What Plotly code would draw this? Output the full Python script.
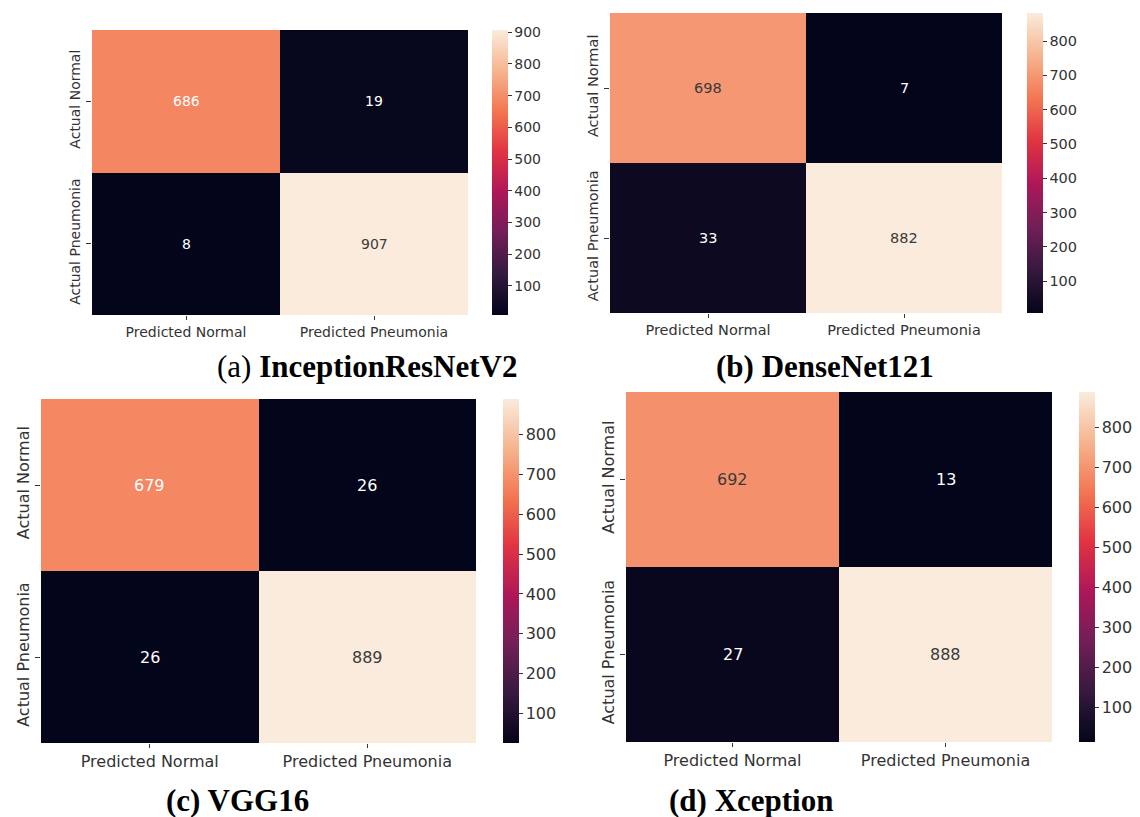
import plotly.graph_objects as go

W, H = 1140, 817

pred_labels = ["Predicted Normal", "Predicted Pneumonia"]
actual_labels = ["Actual Normal", "Actual Pneumonia"]

models = ["InceptionResNetV2", "DenseNet121", "VGG16", "Xception"]
letters = ["a", "b", "c", "d"]

cm_inception = [[686, 19], [8, 907]]
cm_densenet = [[698, 7], [33, 882]]
cm_vgg16 = [[679, 26], [26, 889]]
cm_xception = [[692, 13], [27, 888]]
matrices = [cm_inception, cm_densenet, cm_vgg16, cm_xception]

cbar_ticks_a = [100, 200, 300, 400, 500, 600, 700, 800, 900]
cbar_ticks_bcd = [100, 200, 300, 400, 500, 600, 700, 800]
cbar_ticks = [cbar_ticks_a, cbar_ticks_bcd, cbar_ticks_bcd, cbar_ticks_bcd]

rocket = [
    [0.0, "#03051a"], [1 / 7, "#35193e"], [2 / 7, "#701f57"], [3 / 7, "#ad1759"],
    [4 / 7, "#e13342"], [5 / 7, "#f37651"], [6 / 7, "#f6b48f"], [1.0, "#faebdd"],
]

# layout geometry in pixels: heatmap box (x0, x1, y0, y1), colorbar left x, fonts
boxes = [(92, 468, 30, 315), (610, 1002, 13, 313), (41, 476, 399, 743), (626, 1052, 392, 742)]
cbar_x = [492, 1027, 503, 1079]
tick_fs = [14, 14.5, 16, 16]
captions_pos = [(367, 366), (825, 366), (237, 800), (751, 800)]
text_dark_threshold = 0.77

fig = go.Figure()
annotations = []
for i, (cm, box) in enumerate(zip(matrices, boxes)):
    x0, x1, y0, y1 = box
    sfx = "" if i == 0 else str(i + 1)
    zmin = min(min(r) for r in cm)
    zmax = max(max(r) for r in cm)
    fig.add_trace(go.Heatmap(
        z=cm, x=pred_labels, y=actual_labels,
        xaxis="x" + sfx, yaxis="y" + sfx, coloraxis="coloraxis" + sfx,
        hoverongaps=False,
    ))
    fig.update_layout(**{
        "xaxis" + sfx: dict(
            domain=[x0 / W, x1 / W], anchor="y" + sfx, showgrid=False, zeroline=False,
            ticks="outside", ticklen=4, tickcolor="#333", showline=False,
            tickfont=dict(family="DejaVu Sans", size=tick_fs[i], color="#333333"),
        ),
        "yaxis" + sfx: dict(
            domain=[1 - y1 / H, 1 - y0 / H], anchor="x" + sfx, showgrid=False, zeroline=False,
            autorange="reversed", ticks="outside", ticklen=5, tickcolor="#333",
            tickangle=-90,
            tickfont=dict(family="DejaVu Sans", size=tick_fs[i], color="#333333"),
        ),
        "coloraxis" + sfx: dict(
            colorscale=rocket, cmin=zmin, cmax=zmax,
            colorbar=dict(
                x=cbar_x[i] / W, xanchor="left", y=1 - y0 / H, yanchor="top",
                lenmode="pixels", len=y1 - y0, thicknessmode="pixels", thickness=16,
                xpad=0, ypad=0, outlinewidth=0, tickvals=cbar_ticks[i],
                ticks="outside", ticklen=4, tickcolor="#333",
                tickfont=dict(family="DejaVu Sans", size=tick_fs[i], color="#333333"),
            ),
        ),
    })
    for r, row in enumerate(cm):
        for c, v in enumerate(row):
            norm = (v - zmin) / (zmax - zmin)
            annotations.append(dict(
                x=pred_labels[c], y=actual_labels[r], xref="x" + sfx, yref="y" + sfx,
                text=str(v), showarrow=False,
                font=dict(family="DejaVu Sans", size=tick_fs[i],
                          color="#3a3a3a" if norm > text_dark_threshold else "#ffffff"),
            ))
    cx, cy = captions_pos[i]
    annotations.append(dict(
        x=cx / W, y=1 - cy / H, xref="paper", yref="paper", xanchor="center", yanchor="middle",
        text="(%s) <b>%s</b>" % (letters[i], models[i]) if i == 0 else "<b>(%s) %s</b>" % (letters[i], models[i]),
        showarrow=False, font=dict(family="Liberation Serif", size=31, color="#000"),
    ))

fig.update_layout(
    width=W, height=H, margin=dict(l=0, r=0, t=0, b=0),
    paper_bgcolor="white", plot_bgcolor="white", annotations=annotations,
    showlegend=False,
)
fig.write_html(
    "out.html",
    config={"displayModeBar": False},
    post_script="document.body.style.margin='0';document.body.style.overflow='hidden';",
)
